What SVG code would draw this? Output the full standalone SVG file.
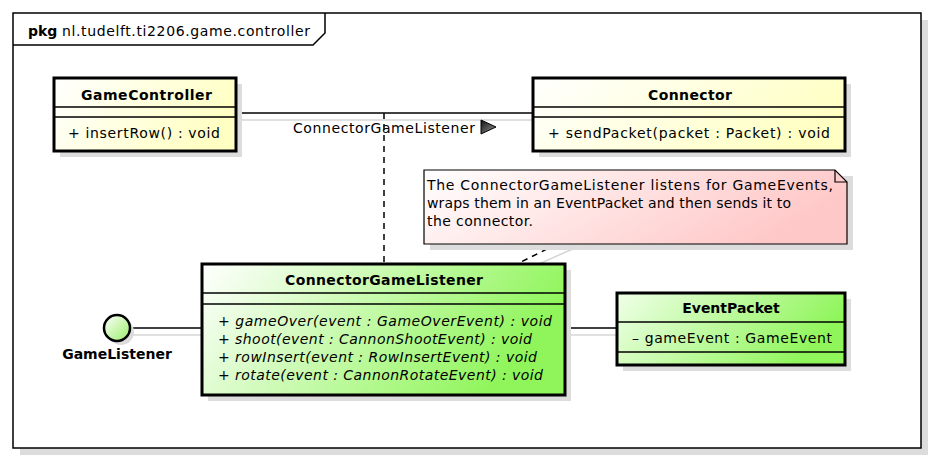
<svg xmlns="http://www.w3.org/2000/svg" width="934" height="461" viewBox="0 0 934 461">
<defs>
<linearGradient id="gY" x1="0" y1="0" x2="1" y2="0.3"><stop offset="0" stop-color="#ffffff"/><stop offset="1" stop-color="#ffffc4"/></linearGradient>
<linearGradient id="gG" x1="0" y1="0" x2="1" y2="0.3"><stop offset="0" stop-color="#ffffff"/><stop offset="1" stop-color="#8ff55a"/></linearGradient>
<linearGradient id="gG2" x1="0" y1="0" x2="1" y2="0.3"><stop offset="0" stop-color="#f0ffe8"/><stop offset="1" stop-color="#8ff55a"/></linearGradient>
<linearGradient id="gP" x1="0" y1="0" x2="1" y2="0.3"><stop offset="0" stop-color="#ffffff"/><stop offset="1" stop-color="#ffc8c8"/></linearGradient>
<linearGradient id="gC" x1="0" y1="0" x2="1" y2="1"><stop offset="0" stop-color="#ffffff"/><stop offset="1" stop-color="#99ee66"/></linearGradient>
<linearGradient id="gT" x1="0" y1="0" x2="1" y2="1"><stop offset="0" stop-color="#111"/><stop offset="1" stop-color="#999"/></linearGradient>
</defs>
<style>
text{font-family:"DejaVu Sans","Liberation Sans",sans-serif;font-size:14px;fill:#000}
.b{font-weight:bold}
.i{font-style:italic}
.m{text-anchor:middle}
.box{stroke:#000;stroke-width:3}
.sh{fill:#dcdcdc;stroke:none}
.ln{stroke:#000;stroke-width:1.5;fill:none}
.gl{stroke:#d6d6d6;stroke-width:1.5;fill:none}
.dash{stroke:#000;stroke-width:1.5;stroke-dasharray:6,5;fill:none}
</style>
<g id="frame">
<rect x="20" y="20" width="908" height="435" class="sh"/>
<rect x="13" y="13" width="908" height="435" fill="#fff" stroke="#000" stroke-width="1.5"/>
<path d="M13,45 H313 L325,33 V13" class="ln"/>
<text x="28" y="36" class="b">pkg</text>
<text x="62" y="36" textLength="248" lengthAdjust="spacing">nl.tudelft.ti2206.game.controller</text>
</g>
<g id="connectors">
<line x1="238" y1="120" x2="542" y2="120" class="gl"/>
<line x1="236" y1="113" x2="533" y2="113" class="ln"/>
<text x="293" y="133" textLength="182" lengthAdjust="spacing">ConnectorGameListener</text>
<polygon points="481,120 481,134 496,127" fill="url(#gT)" stroke="#000" stroke-width="1"/>
<line x1="384" y1="113" x2="384" y2="264" class="dash"/>
<line x1="133" y1="335" x2="208" y2="335" class="gl"/>
<line x1="131" y1="328" x2="202" y2="328" class="ln"/>
<line x1="570" y1="335" x2="625" y2="335" class="gl"/>
<line x1="565" y1="328" x2="617" y2="328" class="ln"/>
<line x1="575" y1="248" x2="525" y2="270" class="gl"/>
<line x1="557" y1="244" x2="517" y2="264" class="dash"/>
</g>
<g id="GameController">
<rect x="60" y="84" width="182" height="73" class="sh"/>
<rect x="54" y="78" width="182" height="73" fill="url(#gY)" class="box"/>
<line x1="54" y1="107" x2="236" y2="107" class="ln"/>
<line x1="54" y1="117" x2="236" y2="117" class="ln"/>
<text x="81" y="100" class="b" textLength="131" lengthAdjust="spacing">GameController</text>
<text x="68" y="138" textLength="152" lengthAdjust="spacing">+ insertRow() : void</text>
</g>
<g id="Connector">
<rect x="539" y="84" width="312" height="73" class="sh"/>
<rect x="533" y="78" width="312" height="73" fill="url(#gY)" class="box"/>
<line x1="533" y1="107" x2="845" y2="107" class="ln"/>
<line x1="533" y1="117" x2="845" y2="117" class="ln"/>
<text x="648" y="100" class="b" textLength="84" lengthAdjust="spacing">Connector</text>
<text x="548" y="138" textLength="282" lengthAdjust="spacing">+ sendPacket(packet : Packet) : void</text>
</g>
<g id="Note">
<rect x="430" y="176" width="423" height="74" class="sh"/>
<path d="M424,170 H835 L847,182 V244 H424 Z" fill="url(#gP)" stroke="#000" stroke-width="1.2"/>
<path d="M835,170 V182 H847" fill="none" stroke="#000" stroke-width="1.2"/>
<text x="427" y="190" textLength="406" lengthAdjust="spacing">The ConnectorGameListener listens for GameEvents,</text>
<text x="427" y="208" textLength="364" lengthAdjust="spacing">wraps them in an EventPacket and then sends it to</text>
<text x="427" y="226" textLength="106" lengthAdjust="spacing">the connector.</text>
</g>
<g id="ConnectorGameListener">
<rect x="208" y="270" width="363" height="131" class="sh"/>
<rect x="202" y="264" width="363" height="131" fill="url(#gG)" class="box"/>
<line x1="202" y1="293" x2="565" y2="293" class="ln"/>
<line x1="202" y1="304" x2="565" y2="304" class="ln"/>
<text x="285" y="285" class="b" textLength="198" lengthAdjust="spacing">ConnectorGameListener</text>
<text x="218" y="326" class="i" textLength="334" lengthAdjust="spacing">+ gameOver(event : GameOverEvent) : void</text>
<text x="218" y="344" class="i" textLength="314" lengthAdjust="spacing">+ shoot(event : CannonShootEvent) : void</text>
<text x="218" y="362" class="i" textLength="319" lengthAdjust="spacing">+ rowInsert(event : RowInsertEvent) : void</text>
<text x="218" y="380" class="i" textLength="325" lengthAdjust="spacing">+ rotate(event : CannonRotateEvent) : void</text>
</g>
<g id="EventPacket">
<rect x="623" y="299" width="228" height="72" class="sh"/>
<rect x="617" y="293" width="228" height="72" fill="url(#gG2)" class="box"/>
<line x1="617" y1="322" x2="845" y2="322" class="ln"/>
<line x1="617" y1="352" x2="845" y2="352" class="ln"/>
<text x="731" y="313" class="b m">EventPacket</text>
<text x="632" y="343" textLength="200" lengthAdjust="spacing">– gameEvent : GameEvent</text>
</g>
<g id="GameListener">
<circle cx="121" cy="332" r="13" class="sh"/>
<circle cx="117" cy="328" r="13" fill="url(#gC)" stroke="#000" stroke-width="2.5"/>
<text x="117" y="359" class="b m">GameListener</text>
</g>
</svg>
